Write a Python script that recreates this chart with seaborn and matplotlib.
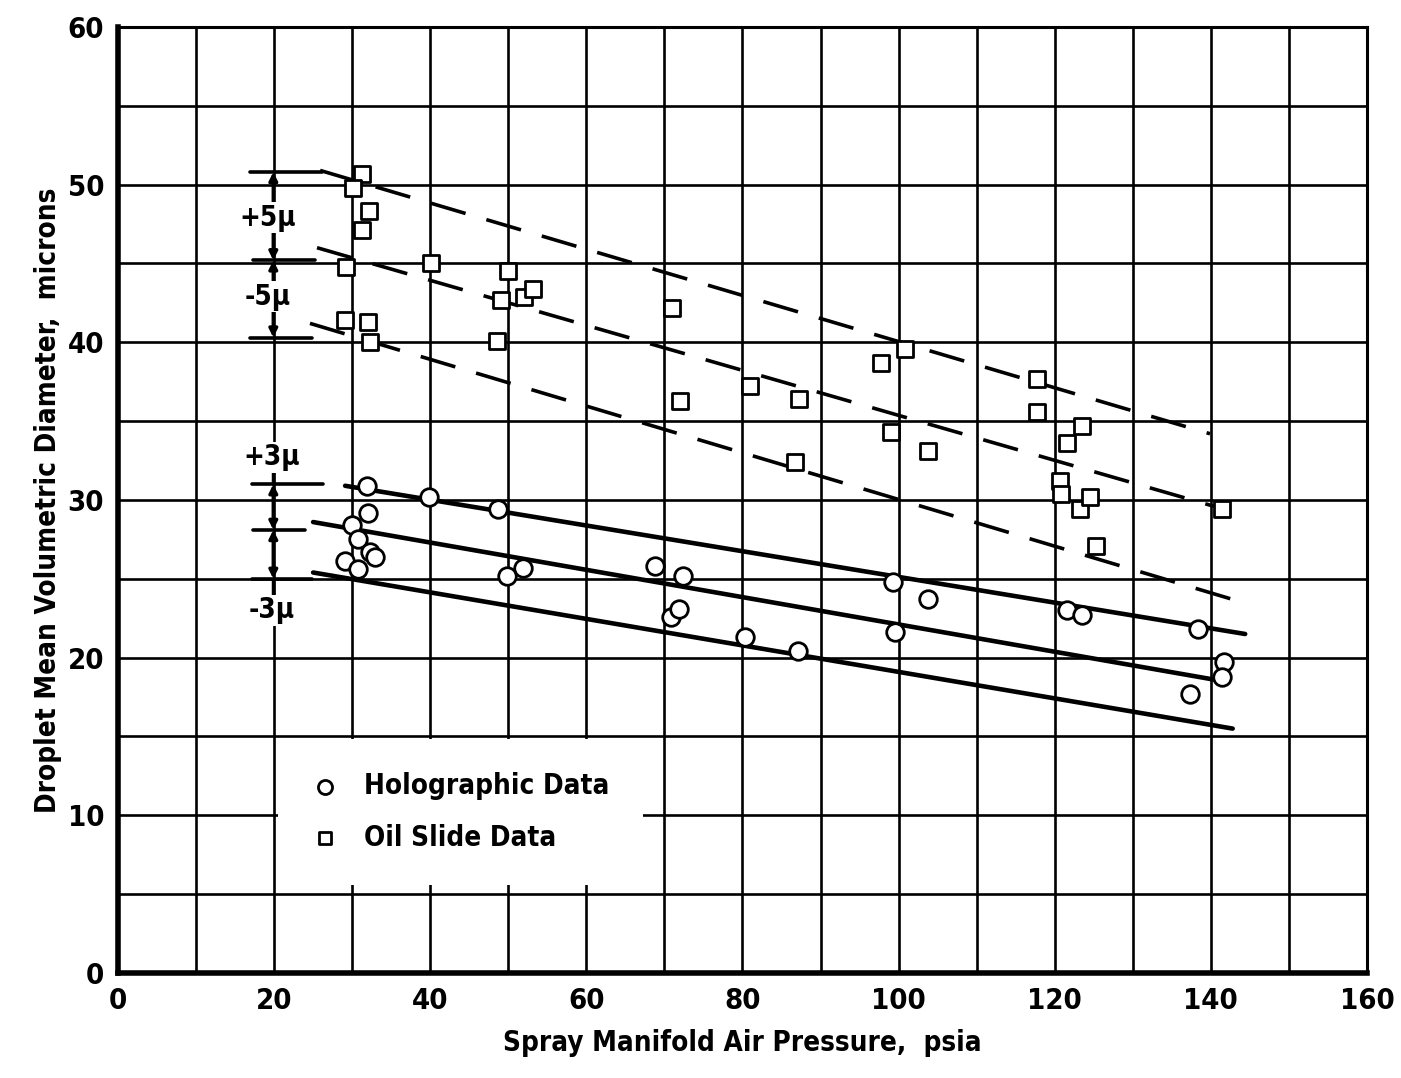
import numpy as np
import pandas as pd
import matplotlib
matplotlib.use("Agg")
import matplotlib.pyplot as plt
import seaborn as sns

# data
holo_x = [29.1, 30.0, 30.7, 30.7, 31.9, 32.0, 32.3, 32.9, 39.8, 48.7, 49.8, 51.9,
          68.8, 70.8, 71.9, 72.4, 80.3, 87.1, 99.3, 99.5, 103.8, 121.6, 123.5,
          137.3, 138.4, 141.7, 141.4]
holo_y = [26.1, 28.4, 27.5, 25.6, 30.9, 29.2, 26.7, 26.4, 30.2, 29.4, 25.2, 25.7,
          25.8, 22.6, 23.1, 25.2, 21.3, 20.4, 24.8, 21.6, 23.7, 23.0, 22.7,
          17.7, 21.8, 19.7, 18.8]

oil_x = [31.3, 30.1, 32.1, 31.3, 29.2, 40.1, 29.1, 32.0, 32.3, 48.6, 49.1, 50.0,
         52.0, 53.2, 71.0, 72.0, 81.0, 87.2, 86.7, 97.7, 100.8, 99.0, 103.8,
         117.7, 117.7, 121.6, 123.5, 120.7, 120.8, 123.2, 124.5, 125.3, 141.4]
oil_y = [50.7, 49.8, 48.3, 47.1, 44.8, 45.0, 41.4, 41.3, 40.0, 40.1, 42.7, 44.5,
         42.9, 43.4, 42.2, 36.3, 37.2, 36.4, 32.4, 38.7, 39.6, 34.3, 33.1,
         37.7, 35.6, 33.6, 34.7, 31.2, 30.4, 29.4, 30.2, 27.1, 29.4]

# band lines (start x, start y, end x, end y)
solid_lines = [(29.1, 30.9, 144.4, 21.5),
               (25.0, 28.6, 140.5, 18.6),
               (25.0, 25.4, 142.8, 15.5)]
dashed_lines = [(25.9, 50.9, 139.9, 34.2),
                (25.5, 46.0, 141.8, 29.4),
                (24.6, 41.2, 144.1, 23.5)]

# bracket levels for the +/- band annotations
oil_band = [50.8, 45.2, 40.3]
holo_band = [31.0, 28.1, 25.0]

sns.set_style("white")
plt.rcParams["font.family"] = ["DejaVu Sans"]
plt.rcParams["font.stretch"] = "condensed"
plt.rcParams["font.weight"] = "bold"
plt.rcParams["axes.labelweight"] = "bold"
for k in ["text.color", "axes.labelcolor", "xtick.color", "ytick.color"]:
    plt.rcParams[k] = "black"

fig = plt.figure(figsize=(14.01, 10.78), dpi=100)
ax = fig.add_axes([0.0842, 0.0974, 0.8915, 0.8776])

ax.set_xlim(0, 160)
ax.set_ylim(0, 60)
ax.set_xticks(range(0, 161, 20))
ax.set_xticks(range(10, 160, 20), minor=True)
ax.set_yticks(range(0, 61, 10))
ax.set_yticks(range(5, 60, 10), minor=True)
ax.grid(True, which="both", color="black", linewidth=1.9)
ax.set_axisbelow(True)
ax.tick_params(which="both", length=0, labelsize=21, pad=10)

for s in ["top", "right"]:
    ax.spines[s].set_linewidth(2.2)
for s in ["left", "bottom"]:
    ax.spines[s].set_linewidth(4)
for s in ax.spines.values():
    s.set_color("black")

for x0, y0, x1, y1 in solid_lines:
    ax.plot([x0, x1], [y0, y1], color="black", linewidth=3.3, zorder=3)
for x0, y0, x1, y1 in dashed_lines:
    ax.plot([x0, x1], [y0, y1], color="black", linewidth=2.6,
            dashes=(10, 6), zorder=3)

holo = pd.DataFrame({"x": holo_x, "y": holo_y})
oil = pd.DataFrame({"x": oil_x, "y": oil_y})
sns.scatterplot(data=holo, x="x", y="y", marker="o", s=160, color="white",
                edgecolor="black", linewidth=2, label="Holographic Data",
                ax=ax, zorder=4)
sns.scatterplot(data=oil, x="x", y="y", marker="s", s=120, color="white",
                edgecolor="black", linewidth=2, label="Oil Slide Data",
                ax=ax, zorder=4)

# band brackets
for lv, (xa, xb) in zip(oil_band, [(16.9, 26.1), (17.3, 25.2), (16.9, 24.9)]):
    ax.plot([xa, xb], [lv, lv], color="black", linewidth=2.6, zorder=3)
for lv, (xa, xb) in zip(holo_band, [(17.2, 26.3), (17.3, 24.0), (17.2, 24.9)]):
    ax.plot([xa, xb], [lv, lv], color="black", linewidth=2.6, zorder=3)
for band in [oil_band, holo_band]:
    for a, b in [(band[0], band[1]), (band[1], band[2])]:
        ax.annotate("", xy=(19.9, b), xytext=(19.9, a),
                    arrowprops=dict(arrowstyle="<|-|>", color="black",
                                    lw=2.5, mutation_scale=12,
                                    shrinkA=0, shrinkB=0), zorder=3)
ax.plot([19.9, 19.9], [holo_band[0], holo_band[0] + 0.9], color="black", lw=2.5)
ax.plot([19.9, 19.9], [holo_band[2], holo_band[2] - 1.0], color="black", lw=2.5)

txt = dict(fontsize=20, ha="center", va="center", zorder=5,
           bbox=dict(facecolor="white", edgecolor="none", pad=1))
ax.text(19.2, 47.9, "+5μ", **txt)
ax.text(19.2, 42.9, "-5μ", **txt)
ax.text(19.7, 32.7, "+3μ", **txt)
ax.text(19.7, 23.0, "-3μ", **txt)

leg = ax.legend(loc="lower left", bbox_to_anchor=(0.128, 0.093),
                fontsize=20, frameon=True, fancybox=False, markerscale=0.8,
                handlelength=1.0, handletextpad=0.9, labelspacing=0.85,
                borderpad=1.2, borderaxespad=0)
leg.get_frame().set_facecolor("white")
leg.get_frame().set_edgecolor("none")
leg.get_frame().set_alpha(1)

ax.set_xlabel("Spray Manifold Air Pressure,  psia", fontsize=20, labelpad=10)
ax.set_ylabel("Droplet Mean Volumetric Diameter,  microns", fontsize=20,
              labelpad=4)

fig.savefig("out.png", dpi=100)
